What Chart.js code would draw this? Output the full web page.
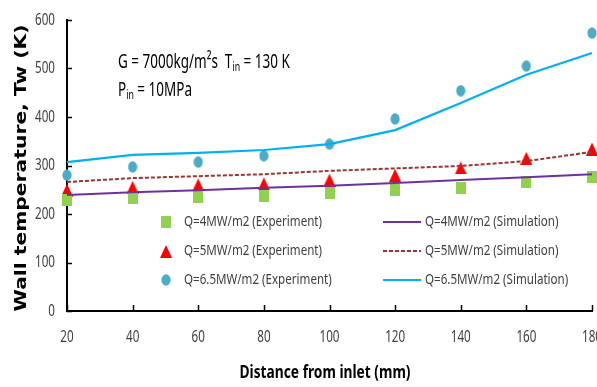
<!DOCTYPE html>
<html>
<head>
<meta charset="UTF-8">
<script src="https://cdn.jsdelivr.net/npm/chart.js@4.4.1/dist/chart.umd.min.js"></script>
<style>
  html, body { margin: 0; padding: 0; background: #fff; overflow: hidden; }
</style>
</head>
<body>
<canvas id="c" width="597" height="387"></canvas>
<script>
// distance from inlet (mm)
const distance = [20, 40, 60, 80, 100, 120, 140, 160, 180];
const yTicks = [0, 100, 200, 300, 400, 500, 600];

// experiment points (K)
const expQ4 = [229, 233, 235, 237, 243, 250, 254, 266, 276];
const expQ5 = [249, 255, 260, 262, 270, 280, 295, 315, 334];
const expQ65 = [280, 297, 307, 320, 344, 396, 454, 505, 573];

// simulation curves (K)
const simQ4 = [239, 245, 249, 254, 258, 264, 270, 276, 282];
const simQ5 = [266, 274, 278, 282, 289, 294, 299, 309, 328];
const simQ65 = [307, 322, 326, 332, 344, 373, 429, 487, 532];

const SANS = "'Noto Sans', 'Open Sans', sans-serif";
const TXT = '#404040';

// the original picture is squeezed sideways, so markers are a bit taller than wide
function marker(kind, color) {
  const c = document.createElement('canvas');
  const g = c.getContext('2d');
  g.fillStyle = color;
  if (kind === 'rect') {
    c.width = 10; c.height = 12;
    g.fillStyle = color;
    g.fillRect(0, 0, 10, 12);
  } else if (kind === 'tri') {
    c.width = 12; c.height = 13;
    g.fillStyle = color;
    g.beginPath(); g.moveTo(6, 0); g.lineTo(12, 13); g.lineTo(0, 13); g.closePath(); g.fill();
  } else {
    c.width = 10; c.height = 12;
    g.fillStyle = color;
    g.beginPath(); g.ellipse(5, 6, 4.6, 5.8, 0, 0, Math.PI * 2); g.fill();
  }
  return c;
}

const datasets = [
  { label: 'Q=4MW/m2 (Experiment)', data: expQ4, showLine: false,
    pointStyle: marker('rect', '#92D050'), order: 1 },
  { label: 'Q=5MW/m2 (Experiment)', data: expQ5, showLine: false,
    pointStyle: marker('tri', '#FF0000'), order: 1 },
  { label: 'Q=6.5MW/m2 (Experiment)', data: expQ65, showLine: false,
    pointStyle: marker('circle', '#4BACC6'), order: 1 },
  { label: 'Q=4MW/m2 (Simulation)', data: simQ4, borderColor: '#7030A0', borderWidth: 2,
    pointRadius: 0, tension: 0, order: 0 },
  { label: 'Q=5MW/m2 (Simulation)', data: simQ5, borderColor: '#953735', borderWidth: 2,
    borderDash: [4, 2], pointRadius: 0, tension: 0, order: 0 },
  { label: 'Q=6.5MW/m2 (Simulation)', data: simQ65, borderColor: '#00B0F0', borderWidth: 2.2,
    pointRadius: 0, tension: 0, order: 0 }
];

// narrow text: squeeze horizontally so it fits a given width
function squeeze(ctx, text, font, width) {
  ctx.font = font;
  return width / ctx.measureText(text).width;
}
function narrowText(ctx, text, x, y, font, sx, align) {
  ctx.save();
  ctx.font = font;
  ctx.translate(x, y);
  ctx.scale(sx, 1);
  ctx.textAlign = align || 'left';
  ctx.fillText(text, 0, 0);
  ctx.restore();
}

// axis labels, inward tick marks and titles
const axisDeco = {
  id: 'axisDeco',
  afterDraw(chart) {
    const ctx = chart.ctx, a = chart.chartArea;
    const xs = chart.scales.x, ys = chart.scales.y;
    ctx.save();
    ctx.strokeStyle = '#000';
    ctx.lineWidth = 1.5;
    ctx.beginPath();
    ys.ticks.forEach((t, i) => {
      const y = Math.round(ys.getPixelForTick(i)) + 0.5;
      ctx.moveTo(a.left, y); ctx.lineTo(a.left + 5, y);
    });
    xs.ticks.forEach((t, i) => {
      const x = Math.round(xs.getPixelForTick(i)) + 0.5;
      ctx.moveTo(x, a.bottom); ctx.lineTo(x, a.bottom - 6);
    });
    ctx.stroke();

    const tf = '16px ' + SANS;
    const sx = squeeze(ctx, '600', tf, 20);
    ctx.fillStyle = TXT;
    ctx.textBaseline = 'middle';
    ys.ticks.forEach((t, i) => {
      narrowText(ctx, String(t.value), a.left - 12, ys.getPixelForTick(i), tf, sx, 'right');
    });
    xs.ticks.forEach((t, i) => {
      narrowText(ctx, String(distance[t.value]), xs.getPixelForTick(i), 337, tf, sx, 'center');
    });

    ctx.fillStyle = '#000';
    const xt = 'Distance from inlet (mm)';
    const xf = 'bold 17px ' + SANS;
    narrowText(ctx, xt, 325, 373, xf, squeeze(ctx, xt, xf, 171), 'center');

    const yt = 'Wall temperature, Tw (K)';
    const yf = 'bold 16px DejaVu Sans';
    ctx.save();
    ctx.translate(22, 168);
    ctx.rotate(-Math.PI / 2);
    narrowText(ctx, yt, 0, 0, yf, squeeze(ctx, yt, yf, 287), 'center');
    ctx.restore();
    ctx.restore();
  }
};

// text with subscripts: [[text, sub], ...]
function drawRich(ctx, x, y, parts, size, sx) {
  ctx.save();
  ctx.translate(x, y);
  ctx.scale(sx, 1);
  let cx = 0;
  parts.forEach(p => {
    ctx.font = size + 'px ' + SANS;
    ctx.fillText(p[0], cx, 0);
    cx += ctx.measureText(p[0]).width;
    if (p[1]) {
      ctx.font = Math.round(size * 0.65) + 'px ' + SANS;
      ctx.fillText(p[1], cx, 5);
      cx += ctx.measureText(p[1]).width;
    }
  });
  ctx.restore();
}

const notes = {
  id: 'notes',
  afterDraw(chart) {
    const ctx = chart.ctx;
    ctx.save();
    ctx.fillStyle = '#000';
    ctx.textBaseline = 'middle';
    const f = '20px ' + SANS;
    const sx = squeeze(ctx, 'G = 7000kg/m\u00B2s  Tin = 130 K', f, 176);
    drawRich(ctx, 118, 62, [['G = 7000kg/m\u00B2s  T', 'in'], [' = 130 K']], 20, sx);
    drawRich(ctx, 118, 90, [['P', 'in'], [' = 10MPa']], 20, sx);
    ctx.restore();
  }
};

// two-column legend inside the plot
const insideLegend = {
  id: 'insideLegend',
  afterDraw(chart) {
    const ctx = chart.ctx;
    const rows = [222, 251, 280];
    const f = '15px ' + SANS;
    ctx.save();
    const sx = squeeze(ctx, 'Q=4MW/m2 (Experiment)', f, 138);
    ctx.fillStyle = TXT;
    ctx.textBaseline = 'middle';
    chart.data.datasets.forEach((ds, i) => {
      const row = rows[i % 3];
      if (i < 3) {
        const m = ds.pointStyle;
        ctx.drawImage(m, Math.round(166 - m.width / 2), Math.round(row - m.height / 2));
        narrowText(ctx, ds.label, 184, row, f, sx);
      } else {
        ctx.save();
        ctx.strokeStyle = ds.borderColor;
        ctx.lineWidth = 2;
        ctx.setLineDash(ds.borderDash || []);
        ctx.beginPath();
        ctx.moveTo(383, row); ctx.lineTo(421, row);
        ctx.stroke();
        ctx.restore();
        narrowText(ctx, ds.label, 425, row, f, sx);
      }
    });
    ctx.restore();
  }
};

new Chart(document.getElementById('c'), {
  type: 'line',
  data: { labels: distance, datasets },
  options: {
    responsive: false,
    animation: false,
    layout: { padding: { top: 20, right: 5, left: 0, bottom: 0 } },
    plugins: { legend: { display: false }, tooltip: { enabled: false } },
    scales: {
      x: {
        type: 'category',
        offset: false,
        grid: { display: false, drawTicks: false },
        border: { display: true, color: '#000', width: 2 },
        ticks: { display: false },
        afterFit(s) { s.height = 76; }
      },
      y: {
        min: 0, max: 600,
        afterBuildTicks(s) { s.ticks = yTicks.map(v => ({ value: v })); },
        grid: { display: false, drawTicks: false },
        border: { display: true, color: '#000', width: 2 },
        ticks: { display: false },
        afterFit(s) { s.width = 67; }
      }
    }
  },
  plugins: [axisDeco, notes, insideLegend]
});
</script>
</body>
</html>
